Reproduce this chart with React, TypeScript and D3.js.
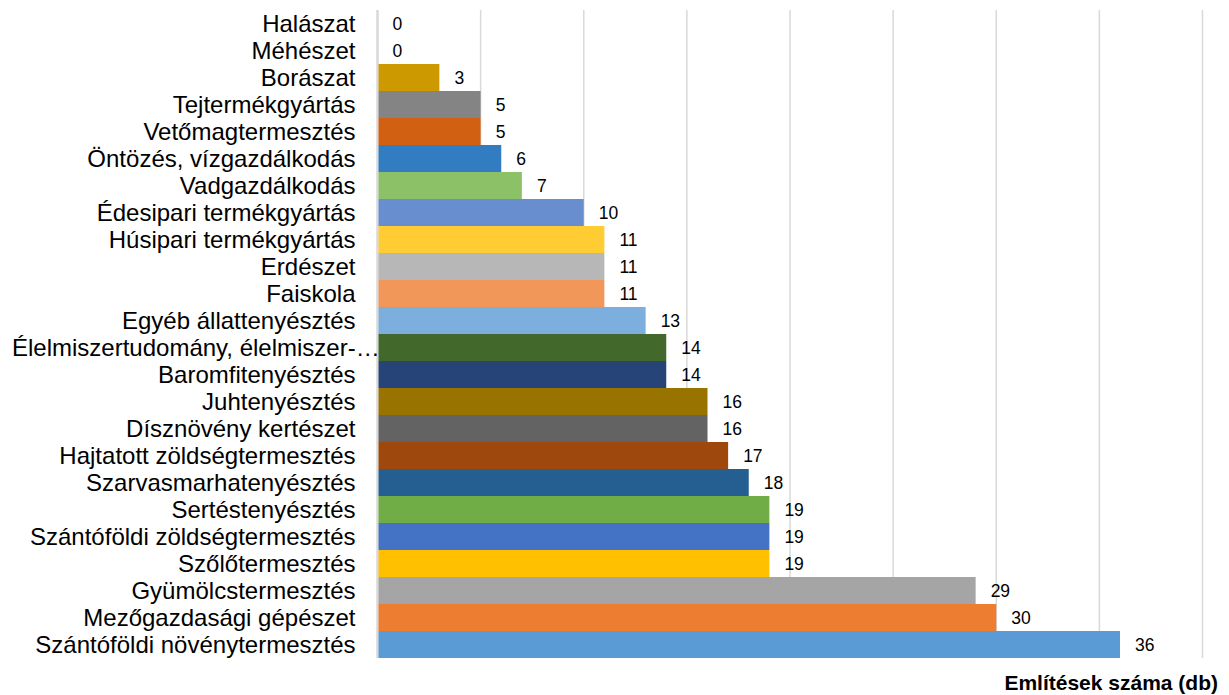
import React, { useEffect, useRef } from 'react'
import * as d3 from 'd3'

const categories = [
  'Halászat',
  'Méhészet',
  'Borászat',
  'Tejtermékgyártás',
  'Vetőmagtermesztés',
  'Öntözés, vízgazdálkodás',
  'Vadgazdálkodás',
  'Édesipari termékgyártás',
  'Húsipari termékgyártás',
  'Erdészet',
  'Faiskola',
  'Egyéb állattenyésztés',
  'Élelmiszertudomány, élelmiszer-…',
  'Baromfitenyésztés',
  'Juhtenyésztés',
  'Dísznövény kertészet',
  'Hajtatott zöldségtermesztés',
  'Szarvasmarhatenyésztés',
  'Sertéstenyésztés',
  'Szántóföldi zöldségtermesztés',
  'Szőlőtermesztés',
  'Gyümölcstermesztés',
  'Mezőgazdasági gépészet',
  'Szántóföldi növénytermesztés'
]

const counts = [0, 0, 3, 5, 5, 6, 7, 10, 11, 11, 11, 13, 14, 14, 16, 16, 17, 18, 19, 19, 19, 29, 30, 36]

const barColors = [
  '#a9d18e', '#8faadc', '#cc9a00', '#848484', '#d26012', '#327dc2',
  '#8cc168', '#698ed0', '#ffcd33', '#b7b7b7', '#f1975a', '#7cafdd',
  '#43682b', '#264478', '#997300', '#636363', '#9e480e', '#255e91',
  '#70ad47', '#4472c4', '#ffc000', '#a5a5a5', '#ed7d31', '#5b9bd5'
]

const gridTicks = [0, 5, 10, 15, 20, 25, 30, 35, 40]

const axisTitle = 'Említések száma (db)'

const width = 1229
const height = 695
const margin = { top: 10, right: 26.5, bottom: 37, left: 377.5 }

const App = () => {
  const ref = useRef<SVGSVGElement>(null)

  useEffect(() => {
    const svg = d3.select(ref.current)
    svg.selectAll('*').remove()

    const x = d3.scaleLinear().domain([0, 40]).range([margin.left, width - margin.right])
    const y = d3.scaleBand<string>().domain(categories).range([margin.top, height - margin.bottom]).padding(0)

    const font = "'Liberation Sans', Arial, Helvetica, sans-serif"

    // gridlines
    svg
      .append('g')
      .selectAll('line')
      .data(gridTicks)
      .enter()
      .append('line')
      .attr('x1', d => x(d))
      .attr('x2', d => x(d))
      .attr('y1', margin.top)
      .attr('y2', height - margin.bottom)
      .attr('stroke', '#d9d9d9')
      .attr('stroke-width', d => (d === 0 ? 2.5 : 1.5))

    // bars
    svg
      .append('g')
      .selectAll('rect')
      .data(counts)
      .enter()
      .append('rect')
      .attr('x', x(0) + 1)
      .attr('y', (d, i) => y(categories[i]) as number)
      .attr('width', d => Math.max(0, x(d) - x(0) - 1))
      .attr('height', y.bandwidth())
      .attr('fill', (d, i) => barColors[i])

    // value labels
    svg
      .append('g')
      .selectAll('text')
      .data(counts)
      .enter()
      .append('text')
      .attr('x', d => x(d) + 15)
      .attr('y', (d, i) => (y(categories[i]) as number) + y.bandwidth() / 2)
      .attr('dy', '0.36em')
      .attr('font-family', font)
      .attr('font-size', 17.5)
      .attr('fill', '#000')
      .text(d => d)

    // category labels
    svg
      .append('g')
      .selectAll('text')
      .data(categories)
      .enter()
      .append('text')
      .attr('x', d => (d.endsWith('…') ? 12 : margin.left - 22))
      .attr('text-anchor', d => (d.endsWith('…') ? 'start' : 'end'))
      .attr('y', d => (y(d) as number) + y.bandwidth() / 2)
      .attr('dy', '0.36em')
      .attr('font-family', font)
      .attr('font-size', 24)
      .attr('fill', '#000')
      .text(d => d)

    // axis title
    svg
      .append('text')
      .attr('x', 1218)
      .attr('y', 690)
      .attr('text-anchor', 'end')
      .attr('font-family', font)
      .attr('font-size', 21)
      .attr('font-weight', 'bold')
      .attr('fill', '#000')
      .text(axisTitle)
  }, [])

  return (
    <svg
      ref={ref}
      width={width}
      height={height}
      style={{ position: 'absolute', left: 0, top: 0, background: '#fff' }}
    />
  )
}

export default App
